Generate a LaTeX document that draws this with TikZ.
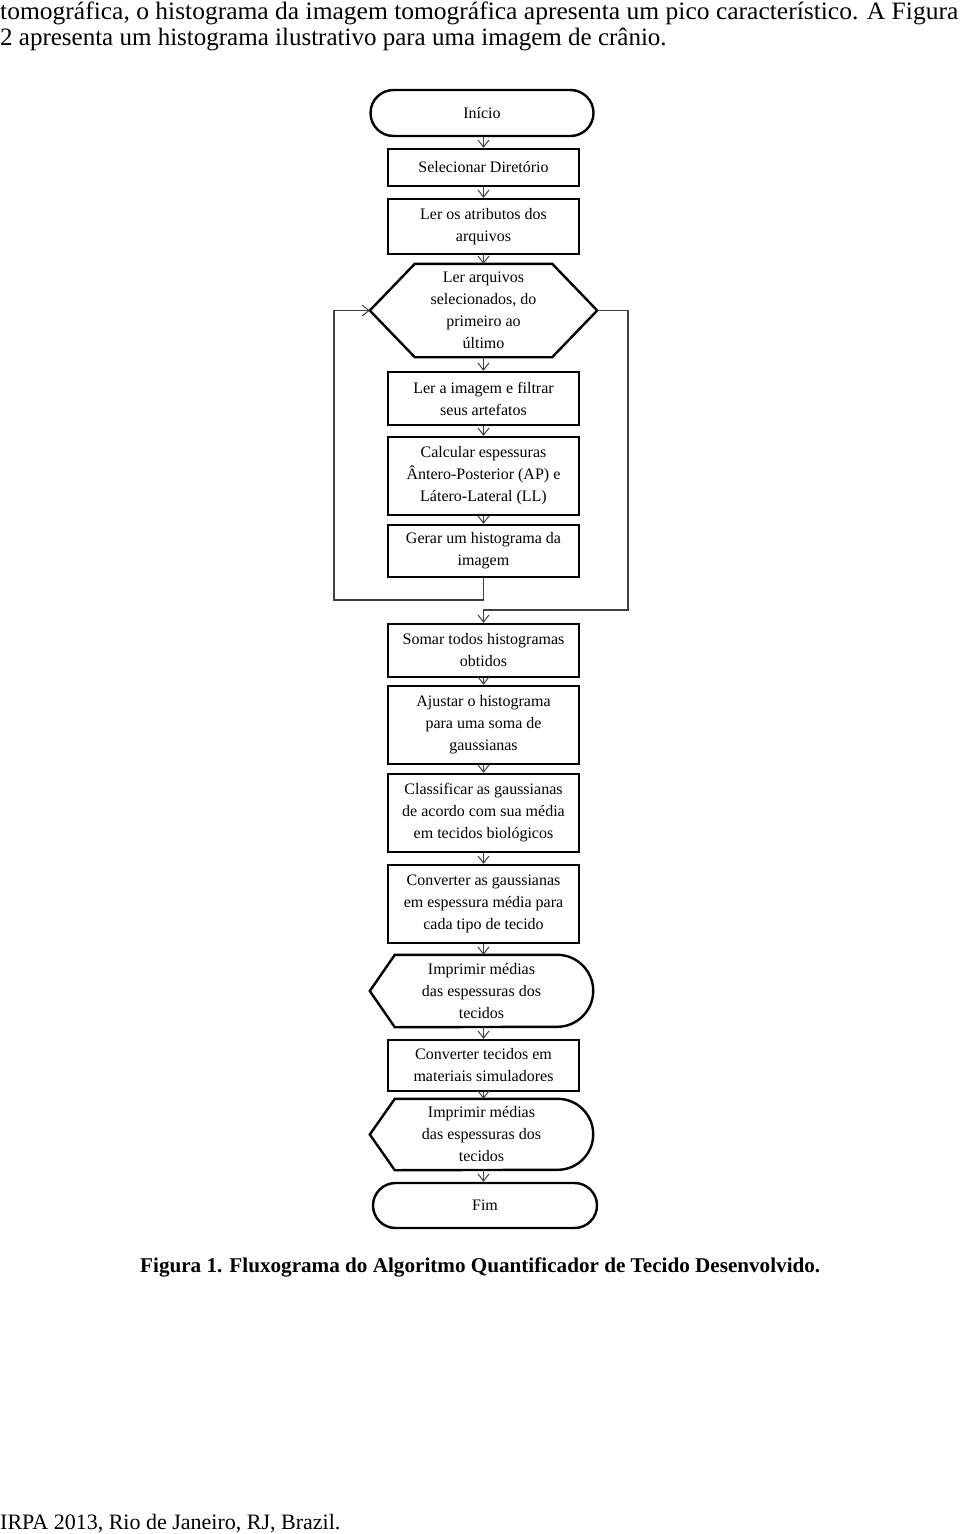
\documentclass[tikz,border=0pt]{standalone}
\usepackage{graphicx}
\usepackage{fontspec}
\setmainfont{Liberation Serif}
\usetikzlibrary{arrows.meta,shadows}
\begin{document}
\begin{tikzpicture}[x=1pt,y=-1pt,
  flow/.style={font={\fontsize{16}{22}\selectfont}, align=center, inner sep=0pt},
  procbox/.style={flow, draw, fill=white, line width=2.4pt, minimum width=191pt, drop shadow={shadow xshift=1.2pt, shadow yshift=-1.2pt, fill=black!40, opacity=0.6}},
  term/.style={flow, draw, fill=white, line width=2.4pt, minimum width=223pt, minimum height=46pt, rounded corners=23pt},
  shapeline/.style={draw, line width=2.4pt, line join=miter},
  conn/.style={draw=black!75, line width=1.1pt, -{Straight Barb[length=7pt,width=11pt,line width=1pt]}},
]
\useasboundingbox[fill=white] (0,0) rectangle (960,1534);

% body text
\node[anchor=base west, inner sep=0pt] (t1) at (0,19.5) {\resizebox{958pt}{\height}{\fontsize{25}{26}\selectfont tomográfica, o histograma da imagem tomográfica apresenta um pico característico. A Figura}};
\node[anchor=base west, inner sep=0pt] (t2) at (0,45.5) {\fontsize{25}{26}\selectfont 2 apresenta um histograma ilustrativo para uma imagem de crânio.};

% flowchart
\node[term] (ini) at (482,113) {Início};
\node[procbox, minimum height=37pt] (sel) at (483.5,167.5) {Selecionar Diretório};
\node[procbox, minimum height=55pt] (atr) at (483.5,226.5) {Ler os atributos dos\\arquivos};
\node[flow, minimum width=227pt, minimum height=93pt] (hex) at (483.5,310.5) {Ler arquivos\\selecionados, do\\primeiro ao\\último};
\path[shapeline] (hex.west) -- ([xshift=45pt]hex.north west) -- ([xshift=-45pt]hex.north east) -- (hex.east) -- ([xshift=-45pt]hex.south east) -- ([xshift=45pt]hex.south west) -- cycle;
\node[procbox, minimum height=53pt] (ler) at (483.5,398.5) {Ler a imagem e filtrar\\seus artefatos};
\node[procbox, minimum height=78pt] (calc) at (483.5,476) {Calcular espessuras\\Ântero-Posterior (AP) e\\Látero-Lateral (LL)};
\node[procbox, minimum height=52pt] (ger) at (483.5,551) {Gerar um histograma da\\imagem};
\node[procbox, minimum height=53pt] (som) at (483.5,650.5) {Somar todos histogramas\\obtidos};
\node[procbox, minimum height=78pt] (aju) at (483.5,725) {Ajustar o histograma\\para uma soma de\\gaussianas};
\node[procbox, minimum height=78pt] (cla) at (483.5,813) {Classificar as gaussianas\\de acordo com sua média\\em tecidos biológicos};
\node[procbox, minimum height=78pt] (con) at (483.5,904) {Converter as gaussianas\\em espessura média para\\cada tipo de tecido};
\node[flow, minimum width=223pt, minimum height=72pt] (imp1) at (481.5,991) {Imprimir médias\\das espessuras dos\\tecidos};
\path[shapeline] (imp1.west) -- ([xshift=25pt]imp1.north west) -- ([xshift=-36pt]imp1.north east) arc[start angle=90, end angle=-90, radius=36pt] -- ([xshift=25pt]imp1.south west) -- cycle;
\node[procbox, minimum height=51pt] (ctec) at (483.5,1065.5) {Converter tecidos em\\materiais simuladores};
\node[flow, minimum width=223pt, minimum height=71pt] (imp2) at (481.5,1134.5) {Imprimir médias\\das espessuras dos\\tecidos};
\path[shapeline] (imp2.west) -- ([xshift=25pt]imp2.north west) -- ([xshift=-35.5pt]imp2.north east) arc[start angle=90, end angle=-90, radius=35.5pt] -- ([xshift=25pt]imp2.south west) -- cycle;
\node[term, minimum width=224pt, minimum height=45pt, rounded corners=22.5pt] (fim) at (485,1205.5) {Fim};

% connectors
\draw[conn] (ini.south -| sel.north) -- (sel.north);
\draw[conn] (sel) -- (atr);
\draw[conn] (atr) -- (hex);
\draw[conn] (hex) -- (ler);
\draw[conn] (ler) -- (calc);
\draw[conn] (calc) -- (ger);
\draw[conn] (som) -- (aju);
\draw[conn] (aju) -- (cla);
\draw[conn] (cla) -- (con);
\draw[conn] (con.south) -- (con.south |- imp1.north);
\draw[conn] (imp1.south -| ctec.south) -- (ctec.north);
\draw[conn] (ctec.south) -- (ctec.south |- imp2.north);
\draw[conn] (imp2.south -| ctec.south) -- (ctec.south |- fim.north);

\coordinate (loopc) at (334,600);
\coordinate (exitc) at (628,610);
\draw[conn] (ger.south) |- (loopc) |- (hex.west);
\draw[conn] (hex.east) -| (exitc) -| (som.north);

% caption and footer
\node[anchor=base west, inner sep=0pt] (cap) at (140,1272) {\resizebox{680pt}{\height}{\fontsize{21}{25}\selectfont\bfseries Figura 1. Fluxograma do Algoritmo Quantificador de Tecido Desenvolvido.}};
\node[anchor=base west, inner sep=0pt] (foot) at (0,1529) {\fontsize{22}{26}\selectfont IRPA 2013, Rio de Janeiro, RJ, Brazil.};
\end{tikzpicture}
\end{document}
